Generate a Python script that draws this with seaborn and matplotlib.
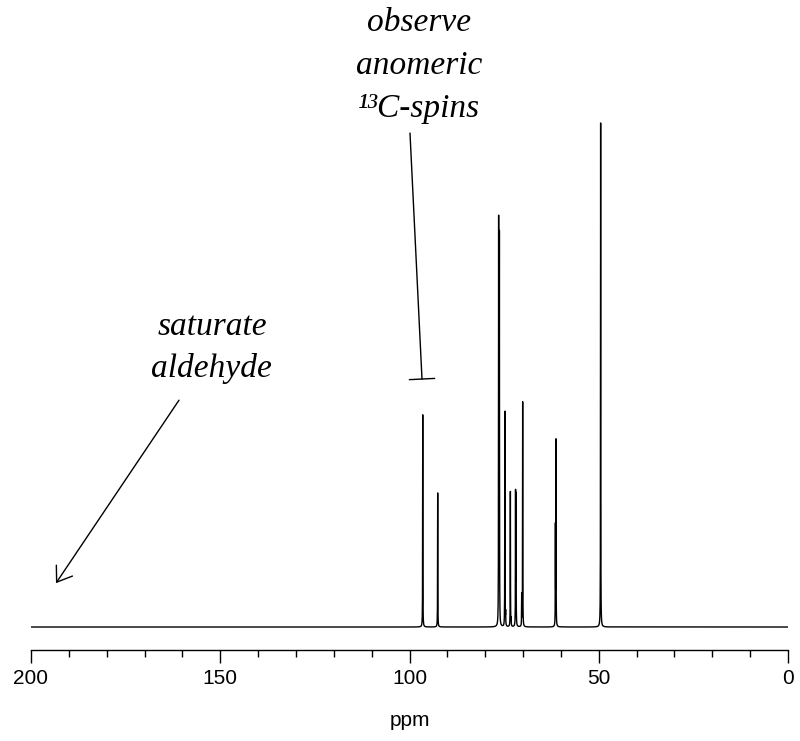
import numpy as np
import pandas as pd
import matplotlib
matplotlib.use("Agg")
import matplotlib.pyplot as plt
from matplotlib.ticker import MultipleLocator
import seaborn as sns

# Pics du spectre 13C (ppm, intensite relative au pic de 49.5 ppm = 100)
peak_ppm = [96.5, 92.55, 76.45, 76.25, 74.8, 74.6, 73.35, 73.15, 71.98, 71.85, 70.36, 70.1, 61.45, 61.3, 49.5]
peak_height = [42.1, 26.6, 80.0, 76.9, 42.7, 2.5, 26.8, 1.4, 26.0, 25.4, 6.2, 44.6, 19.3, 36.6, 100.0]
peak_width = [0.03] * len(peak_ppm)

xticks = [200, 150, 100, 50, 0]

# Construction du spectre (raies lorentziennes)
ppm = np.union1d(np.linspace(0, 200, 40001), peak_ppm)
intensity = np.zeros_like(ppm)
for p, h, w in zip(peak_ppm, peak_height, peak_width):
    intensity += h * w**2 / ((ppm - p)**2 + w**2)
df = pd.DataFrame({"ppm": ppm, "intensity": intensity})

sns.set_style("white")
plt.rcParams["font.family"] = ["Liberation Sans", "DejaVu Sans"]

fig = plt.figure(figsize=(8, 7.41), dpi=100)
ax = fig.add_axes([31 / 800, 91 / 741, 757 / 800, 550 / 741])

sns.lineplot(data=df, x="ppm", y="intensity", color="black", lw=1.0,
             estimator=None, sort=False, ax=ax)

ax.set_xlim(200, 0)
ax.set_ylim(-4.56, 104.56)
ax.set_xticks(xticks)
ax.xaxis.set_minor_locator(MultipleLocator(10))
ax.set_yticks([])
ax.set_ylabel("")
for s in ["left", "top", "right"]:
    ax.spines[s].set_visible(False)
ax.spines["bottom"].set_color("black")
ax.spines["bottom"].set_linewidth(1.0)
ax.tick_params(axis="x", which="major", direction="out", length=9.4, width=1.0,
               pad=4, labelsize=15, colors="black", bottom=True)
ax.tick_params(axis="x", which="minor", direction="out", length=5, width=1.0,
               colors="black", bottom=True)
ax.set_xlabel("ppm", fontsize=15, labelpad=17, color="black")

# Annotations
serif = dict(family=["Liberation Serif", "DejaVu Serif"], style="italic",
             fontsize=24, color="black")
ax.text(97.5, 123.0, "observe\nanomeric\n\u00b9\u00b3C-spins", ha="center", va="top",
        linespacing=1.55, **serif)
ax.annotate("", xy=(96.7, 49.2), xytext=(99.87, 98.0),
            arrowprops=dict(arrowstyle="-[, widthB=0.38, lengthB=0", lw=1.0,
                            color="black", shrinkA=0, shrinkB=0, mutation_scale=24))
ax.text(152.2, 62.5, "saturate\naldehyde", ha="center", va="top",
        linespacing=1.45, **serif)
ax.annotate("", xy=(193.4, 8.7), xytext=(160.9, 45.0),
            arrowprops=dict(arrowstyle="->, head_length=0.5, head_width=0.35", lw=1.0,
                            color="black", shrinkA=0, shrinkB=0, mutation_scale=20))

fig.savefig("out.png", dpi=100)
